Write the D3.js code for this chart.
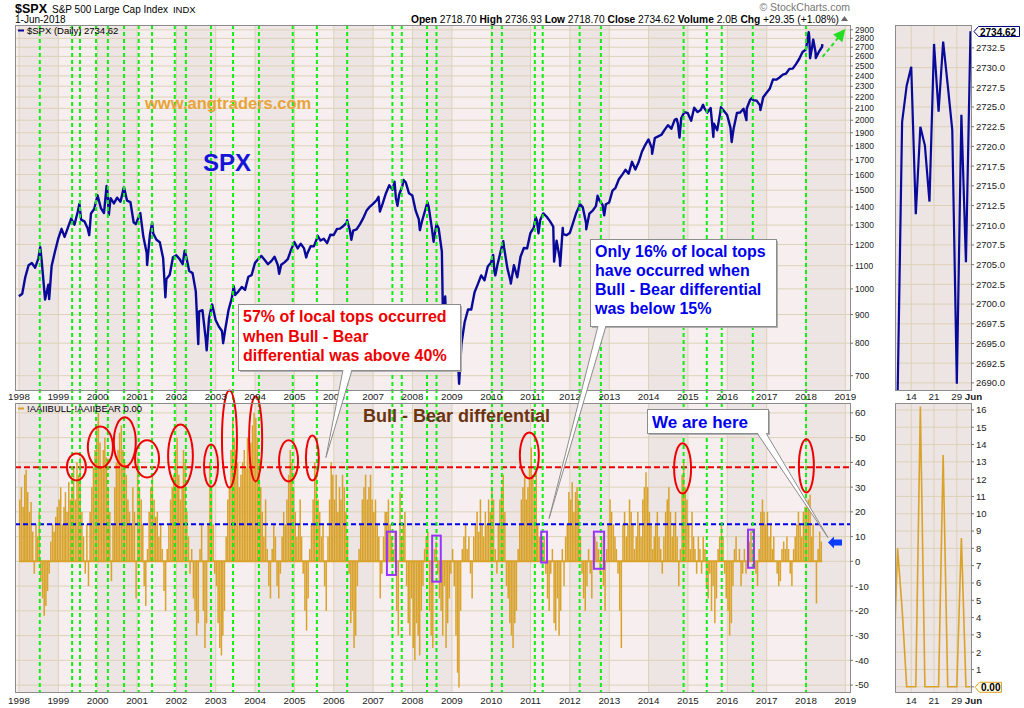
<!DOCTYPE html>
<html>
<head>
<meta charset="utf-8">
<script src="https://cdn.jsdelivr.net/npm/d3@7"></script>
<style>
  body { margin: 0; background: #fff; }
  svg { display: block; font-family: "Liberation Sans", Arial, sans-serif; }
</style>
</head>
<body>
<svg width="1024" height="708"></svg>
<script>
// ---- data ----
// S&P 500 month-end closes, Dec 1997 .. May 2018
var spxMonthly = [970,
  980, 1049, 1102, 1112, 1091, 1134, 1121, 957, 1017, 1099, 1164, 1229,
  1280, 1238, 1286, 1335, 1302, 1373, 1329, 1320, 1283, 1363, 1389, 1469,
  1394, 1366, 1499, 1452, 1421, 1455, 1431, 1518, 1437, 1429, 1315, 1320,
  1366, 1240, 1160, 1249, 1256, 1224, 1211, 1134, 1041, 1060, 1139, 1148,
  1130, 1107, 1147, 1076, 1067, 990, 912, 916, 815, 886, 936, 880,
  856, 841, 848, 917, 964, 975, 990, 1008, 996, 1051, 1058, 1112,
  1131, 1145, 1126, 1107, 1121, 1141, 1102, 1104, 1115, 1130, 1174, 1212,
  1181, 1204, 1181, 1157, 1192, 1191, 1234, 1220, 1229, 1207, 1249, 1248,
  1280, 1281, 1295, 1311, 1270, 1270, 1277, 1304, 1336, 1378, 1401, 1418,
  1438, 1407, 1421, 1482, 1531, 1503, 1455, 1474, 1527, 1549, 1481, 1468,
  1379, 1331, 1323, 1386, 1400, 1280, 1267, 1283, 1166, 969, 896, 903,
  826, 735, 798, 873, 919, 919, 987, 1021, 1057, 1036, 1096, 1115,
  1074, 1104, 1169, 1187, 1089, 1031, 1102, 1049, 1141, 1183, 1181, 1258,
  1286, 1327, 1326, 1364, 1345, 1321, 1292, 1219, 1131, 1253, 1247, 1258,
  1312, 1366, 1408, 1398, 1310, 1362, 1379, 1407, 1441, 1412, 1416, 1426,
  1498, 1515, 1569, 1598, 1631, 1606, 1686, 1633, 1682, 1757, 1806, 1848,
  1783, 1859, 1872, 1884, 1924, 1960, 1931, 2003, 1972, 2018, 2068, 2059,
  1995, 2105, 2068, 2086, 2107, 2063, 2104, 1972, 1920, 2079, 2080, 2044,
  1940, 1932, 2060, 2065, 2097, 2099, 2174, 2171, 2168, 2126, 2199, 2239,
  2279, 2364, 2363, 2384, 2412, 2423, 2470, 2472, 2519, 2575, 2648, 2674,
  2824, 2714, 2641, 2648, 2705];

// intra-month highs and lows visible on the line
var spxSwings = [
  ["1998-07-17", 1187], ["1998-08-31", 957], ["1998-10-08", 959],
  ["1999-07-16", 1419], ["1999-10-15", 1247],
  ["2000-03-24", 1527], ["2000-04-14", 1356], ["2000-09-01", 1520], ["2000-12-20", 1305],
  ["2001-04-04", 1103], ["2001-05-21", 1313], ["2001-09-21", 966],
  ["2002-03-19", 1170], ["2002-07-23", 797], ["2002-10-09", 777], ["2002-11-27", 938],
  ["2003-03-11", 800], ["2003-06-17", 1011], ["2004-08-12", 1064],
  ["2005-04-20", 1138], ["2005-08-03", 1245], ["2006-05-05", 1326], ["2006-06-13", 1224],
  ["2007-02-20", 1460], ["2007-03-05", 1374], ["2007-07-19", 1553], ["2007-08-15", 1407],
  ["2007-10-09", 1565], ["2008-03-10", 1273], ["2008-05-19", 1427], ["2008-07-15", 1214],
  ["2008-08-11", 1305], ["2008-10-10", 899], ["2008-11-20", 752], ["2009-01-06", 935],
  ["2009-03-09", 677], ["2010-01-19", 1150], ["2010-02-08", 1057], ["2010-04-23", 1217],
  ["2010-07-02", 1022], ["2011-02-18", 1343], ["2011-03-16", 1257], ["2011-04-29", 1364],
  ["2011-08-08", 1119], ["2011-10-03", 1099], ["2011-10-27", 1285],
  ["2012-04-02", 1419], ["2012-06-01", 1278], ["2012-09-14", 1466], ["2012-11-15", 1353],
  ["2014-02-03", 1742], ["2014-09-18", 2011], ["2014-10-15", 1862],
  ["2015-05-21", 2131], ["2015-08-25", 1867], ["2015-11-03", 2109], ["2016-02-11", 1829],
  ["2016-06-27", 2001], ["2016-08-15", 2190], ["2016-11-04", 2085],
  ["2018-01-26", 2873], ["2018-02-08", 2581], ["2018-03-09", 2786], ["2018-04-02", 2582],
  ["2018-06-01", 2734.62]];

// AAII bull - bear spread, two readings per month, Jan 1998 .. May 2018
var aaiiSpread = [
  25,30,22,35,37,28,20,24,12,-5,15,10,20,-8,-15,-22,-18,-12,-5,8,15,12,18,22,
  25,30,15,22,28,20,32,25,30,38,25,40,35,42,20,10,-5,15,-10,20,30,38,45,55,
  60,48,38,45,50,42,30,20,-8,15,30,40,45,52,55,45,40,35,25,20,15,30,20,-15,
  42,30,25,15,-10,-18,5,20,30,35,25,18,20,10,15,5,-12,-20,5,15,25,30,35,45,
  50,35,25,30,45,40,20,10,-5,5,-15,-20,-30,-25,5,15,-20,-35,-25,15,40,30,15,-5,
  -10,-25,-35,-38,-30,-20,10,25,30,45,58,50,45,40,30,35,40,45,38,50,42,48,55,60,
  58,50,40,30,20,10,25,5,-10,-15,5,15,10,-10,-15,-5,10,20,15,25,35,45,40,30,
  20,10,15,25,10,-5,-20,-28,-15,5,15,25,40,35,25,20,10,15,-10,-20,10,25,40,35,
  25,35,20,30,25,35,30,20,10,-5,-25,-20,-35,-30,-10,5,15,25,30,35,25,30,35,25,
  20,25,15,10,-15,-5,10,20,20,25,15,10,5,12,-20,-30,28,10,15,20,-10,-25,-30,-15,
  -35,-40,-25,-30,-38,-20,-10,5,10,12,-20,-30,-35,5,8,-5,-15,-20,-30,-10,-35,-25,-15,-5,
  5,-10,-30,-45,-51,-20,5,10,15,5,10,-5,-15,10,15,20,12,25,15,10,20,15,25,20,
  30,25,5,-5,15,25,30,35,20,-10,-15,-25,-30,-35,-25,-20,5,15,25,30,35,25,30,38,
  46,35,30,38,15,10,10,8,10,-5,-15,-20,-5,5,-25,-28,-15,-30,-20,5,-10,10,15,28,
  25,32,20,28,30,25,10,-5,-15,-20,-10,5,-5,-15,5,10,8,5,-5,10,-10,-20,5,15,
  25,20,15,10,5,-5,-20,-35,15,20,10,15,25,20,15,5,10,20,15,10,25,30,36,30,
  20,15,5,10,15,20,10,5,-5,10,20,25,30,20,10,15,20,10,-10,5,35,40,30,25,
  15,5,20,10,5,-5,10,5,-5,10,5,-10,-15,-5,-20,-10,-25,-15,5,10,15,10,-5,-15,
  -20,-30,-25,-10,5,10,0,5,-10,-5,5,-5,10,8,12,5,0,-5,-10,5,20,25,20,15,
  20,10,15,5,10,0,-5,-10,-8,5,8,5,10,5,-5,-10,5,10,15,20,15,10,20,22,
  22,25,27,10,15,0,-17,5,12,8];

// local tops marked with green dashed lines (decimal years)
var localTops = [1998.53, 1999.35, 1999.55, 1999.96, 2000.26, 2000.67, 2001.04, 2001.38,
  2001.96, 2002.24, 2002.88, 2003.44, 2004.10, 2004.96, 2005.57, 2006.34, 2007.49,
  2007.73, 2008.37, 2008.61, 2010.02, 2010.27, 2011.11, 2011.31, 2012.25, 2012.79,
  2014.89, 2015.48, 2015.86, 2016.65, 2018.00];

// red ellipses (tops above 40%) and purple boxes (tops below 15%): [from, to, low, high]
var highTops = [[1999.22, 1999.70, 32.7, 43.6], [1999.75, 2000.39, 37.9, 54.5],
  [2000.41, 2000.97, 38.3, 58.2], [2000.95, 2001.56, 33.9, 48.9], [2001.79, 2002.42, 29.8, 55.3],
  [2002.70, 2003.06, 30.2, 47.2], [2003.16, 2003.54, 29.8, 69.1], [2003.85, 2004.18, 32.3, 66.7],
  [2004.61, 2005.09, 32.3, 48.9], [2005.29, 2005.62, 32.7, 50.9], [2010.73, 2011.21, 33.5, 52.1],
  [2014.65, 2015.08, 27.4, 47.7], [2017.82, 2018.20, 27.8, 49.3]];
var lowTops = [[2007.35, 2007.58, -5.5, 12], [2008.50, 2008.72, -8.2, 10.4],
  [2011.27, 2011.42, -0.5, 12], [2012.61, 2012.87, -3, 12], [2016.53, 2016.68, -2.6, 12.8]];

var redLevel = 38, blueLevel = 15;

// last weeks (right-hand panels)
var recentDays = ["2018-05-08", "2018-05-09", "2018-05-10", "2018-05-11", "2018-05-14", "2018-05-15",
  "2018-05-16", "2018-05-17", "2018-05-18", "2018-05-21", "2018-05-22", "2018-05-23",
  "2018-05-24", "2018-05-25", "2018-05-29", "2018-05-30", "2018-05-31", "2018-06-01"];
var recentClose = [2672, 2688, 2723.1, 2727.7, 2730.1, 2711.4, 2722.5, 2720.1, 2713.0, 2733.0,
  2724.4, 2733.3, 2727.8, 2722.1, 2689.9, 2724.0, 2705.3, 2734.62];
var recentSpread = [0, 8.0, 4.5, 0, 0, 0, 16.2, 0, 0, 0, 0, 13.4, 0, 0, 0, 8.6, 0, 0];
var recentLabels = [["2018-05-14", "14"], ["2018-05-21", "21"], ["2018-05-29", "29"], ["2018-06-01", "Jun"]];

var spxTicks = [700, 800, 900, 1000, 1100, 1200, 1300, 1400, 1500, 1600, 1700, 1800, 1900,
  2000, 2100, 2200, 2300, 2400, 2500, 2600, 2700, 2800, 2900];
var aaiiTicks = [-50, -40, -30, -20, -10, 0, 10, 20, 30, 40, 50, 60];
var closeTicks = d3.range(2690, 2733, 2.5);
var spreadTicks = d3.range(0, 17);
var years = d3.range(1998, 2020);

// ---- layout ----
var pTop = {x0: 15, x1: 850, y0: 25, y1: 390},
    pBot = {x0: 15, x1: 850, y0: 403, y1: 692},
    sideX0 = 895, sideX1 = 971;

var parse = d3.timeParse("%Y-%m-%d");
function yd(t) { var yr = Math.floor(t); return new Date(yr, 0, 1 + Math.round((t - yr) * 365)); }

var x = d3.scaleTime().domain([new Date(1998, 0, 1), new Date(2018, 0, 1)]).range([19, 806]);
var y = d3.scaleLog().domain([660, 2958]).range([pTop.y1, pTop.y0]);
var y2 = d3.scaleLinear().domain([-52.8, 64]).range([pBot.y1, pBot.y0]);
var xs = d3.scalePoint().domain(recentDays).range([893, 970.5]);
var ys = d3.scaleLinear().domain([2689.1, 2735.4]).range([pTop.y1, pTop.y0]);
var ys2 = d3.scaleLinear().domain([-0.3, 16.4]).range([pBot.y1, pBot.y0]);

var svg = d3.select("svg");
var defs = svg.append("defs");
function clip(id, x0, y0, x1, y1) {
  defs.append("clipPath").attr("id", id).append("rect")
    .attr("x", x0).attr("y", y0).attr("width", x1 - x0).attr("height", y1 - y0);
}
clip("cTop", pTop.x0, pTop.y0, pTop.x1, pTop.y1);
clip("cBot", pBot.x0, pBot.y0, pBot.x1, pBot.y1);
clip("cSideTop", sideX0, pTop.y0, sideX1, pTop.y1);
clip("cSideBot", sideX0, pBot.y0, sideX1, pBot.y1);

var gridCol = "#dcd2b8", light = "#f7efef", dark = "#ede4e4";

// panel backgrounds with yearly bands
[[pTop, "cTop"], [pBot, "cBot"]].forEach(function(p) {
  var b = p[0];
  var g = svg.append("g").attr("clip-path", "url(#" + p[1] + ")");
  g.append("rect").attr("x", b.x0).attr("y", b.y0).attr("width", b.x1 - b.x0).attr("height", b.y1 - b.y0)
    .attr("fill", light);
  g.selectAll("rect.band").data(d3.range(1996, 2020).filter(function(d) { return d % 2 === 0; }))
    .enter().append("rect").attr("class", "band")
      .attr("x", function(d) { return x(new Date(d, 0, 1)); })
      .attr("y", b.y0)
      .attr("width", function(d) { return x(new Date(d + 1, 0, 1)) - x(new Date(d, 0, 1)); })
      .attr("height", b.y1 - b.y0)
      .attr("fill", dark);
  g.selectAll("line.vg").data(years).enter().append("line").attr("class", "vg")
    .attr("x1", function(d) { return x(new Date(d, 0, 1)); })
    .attr("x2", function(d) { return x(new Date(d, 0, 1)); })
    .attr("y1", b.y0).attr("y2", b.y1)
    .attr("stroke", gridCol);
});
svg.append("rect").attr("x", sideX0).attr("y", pTop.y0).attr("width", sideX1 - sideX0)
  .attr("height", pTop.y1 - pTop.y0).attr("fill", dark);
svg.append("rect").attr("x", sideX0).attr("y", pBot.y0).attr("width", sideX1 - sideX0)
  .attr("height", pBot.y1 - pBot.y0).attr("fill", dark);

// horizontal grid
function hGrid(scale, ticks, x0, x1) {
  svg.append("g").selectAll("line").data(ticks).enter().append("line")
    .attr("x1", x0).attr("x2", x1)
    .attr("y1", function(d) { return scale(d); }).attr("y2", function(d) { return scale(d); })
    .attr("stroke", gridCol);
}
hGrid(y, spxTicks, pTop.x0, pTop.x1);
hGrid(y2, aaiiTicks, pBot.x0, pBot.x1);
hGrid(ys, closeTicks, sideX0, sideX1);
hGrid(ys2, spreadTicks, sideX0, sideX1);
[pTop, pBot].forEach(function(b) {
  svg.append("g").selectAll("line").data(recentLabels.slice(0, 3)).enter().append("line")
    .attr("x1", function(d) { return xs(d[0]); }).attr("x2", function(d) { return xs(d[0]); })
    .attr("y1", b.y0).attr("y2", b.y1).attr("stroke", gridCol);
});

// SPX line
var spxPts = spxMonthly.map(function(v, i) { return {date: new Date(1997, 12 + i, 0), v: v}; })
  .concat(spxSwings.map(function(d) { return {date: parse(d[0]), v: d[1]}; }))
  .sort(function(a, b) { return a.date - b.date; });
svg.append("path").datum(spxPts)
  .attr("clip-path", "url(#cTop)")
  .attr("fill", "none").attr("stroke", "#0a0a9a").attr("stroke-width", 2.4)
  .attr("stroke-linejoin", "round")
  .attr("d", d3.line().x(function(d) { return x(d.date); }).y(function(d) { return y(d.v); }));

// AAII spread bars
var aaiiPts = aaiiSpread.map(function(v, i) {
  return {date: new Date(1998, Math.floor(i / 2), i % 2 ? 16 : 1), v: v};
});
var barW = (x(new Date(1998, 1, 1)) - x(new Date(1998, 0, 1))) / 2;
svg.append("g").attr("clip-path", "url(#cBot)")
  .selectAll("rect").data(aaiiPts).enter().append("rect")
    .attr("x", function(d) { return x(d.date); })
    .attr("width", barW * 0.9)
    .attr("y", function(d) { return y2(Math.max(0, d.v)); })
    .attr("height", function(d) { return Math.abs(y2(d.v) - y2(0)); })
    .attr("fill", "#d9a22a");
svg.append("line").attr("x1", x(aaiiPts[0].date)).attr("x2", x(aaiiPts[aaiiPts.length - 1].date) + barW)
  .attr("y1", y2(0)).attr("y2", y2(0)).attr("stroke", "#d9a22a").attr("stroke-width", 2);

// side panels
svg.append("path").datum(recentClose).attr("clip-path", "url(#cSideTop)")
  .attr("fill", "none").attr("stroke", "#0a0a9a").attr("stroke-width", 2.2)
  .attr("d", d3.line().x(function(d, i) { return xs(recentDays[i]); }).y(function(d) { return ys(d); }));
svg.append("path").datum(recentSpread).attr("clip-path", "url(#cSideBot)")
  .attr("fill", "none").attr("stroke", "#d9a22a").attr("stroke-width", 1.6)
  .attr("d", d3.line().x(function(d, i) { return xs(recentDays[i]); }).y(function(d) { return ys2(d); }));

// threshold lines
svg.append("line").attr("x1", pBot.x0).attr("x2", pBot.x1)
  .attr("y1", y2(redLevel)).attr("y2", y2(redLevel))
  .attr("stroke", "#ee0000").attr("stroke-width", 2).attr("stroke-dasharray", "6,3");
svg.append("line").attr("x1", pBot.x0).attr("x2", pBot.x1)
  .attr("y1", y2(blueLevel)).attr("y2", y2(blueLevel))
  .attr("stroke", "#0000ee").attr("stroke-width", 2).attr("stroke-dasharray", "5,3");

// local-top markers
svg.append("g").selectAll("line").data(localTops).enter().append("line")
  .attr("x1", function(d) { return x(yd(d)); }).attr("x2", function(d) { return x(yd(d)); })
  .attr("y1", pTop.y0).attr("y2", pBot.y1)
  .attr("stroke", "#11ee11").attr("stroke-width", 2).attr("stroke-dasharray", "4,3");

svg.append("g").selectAll("ellipse").data(highTops).enter().append("ellipse")
  .attr("cx", function(d) { return (x(yd(d[0])) + x(yd(d[1]))) / 2; })
  .attr("cy", function(d) { return (y2(d[2]) + y2(d[3])) / 2; })
  .attr("rx", function(d) { return (x(yd(d[1])) - x(yd(d[0]))) / 2; })
  .attr("ry", function(d) { return (y2(d[2]) - y2(d[3])) / 2; })
  .attr("fill", "none").attr("stroke", "#ee0000").attr("stroke-width", 2);
svg.append("g").selectAll("rect").data(lowTops).enter().append("rect")
  .attr("x", function(d) { return x(yd(d[0])); })
  .attr("y", function(d) { return y2(d[3]); })
  .attr("width", function(d) { return x(yd(d[1])) - x(yd(d[0])); })
  .attr("height", function(d) { return y2(d[2]) - y2(d[3]); })
  .attr("fill", "none").attr("stroke", "#9933ff").attr("stroke-width", 2);

// green arrow: expected continuation
var arrFrom = [yd(2018.42), 2594], arrTo = [yd(2019.0), 2909];
var ax0 = x(arrFrom[0]), ay0 = y(arrFrom[1]), ax1 = x(arrTo[0]), ay1 = y(arrTo[1]);
var ang = Math.atan2(ay1 - ay0, ax1 - ax0);
svg.append("line").attr("x1", ax0).attr("y1", ay0)
  .attr("x2", ax1 - 9 * Math.cos(ang)).attr("y2", ay1 - 9 * Math.sin(ang))
  .attr("stroke", "#22dd22").attr("stroke-width", 2).attr("stroke-dasharray", "4,3");
svg.append("path").attr("fill", "#22dd22")
  .attr("transform", "translate(" + ax1 + "," + ay1 + ") rotate(" + ang * 180 / Math.PI + ")")
  .attr("d", "M0,0 L-12,-6 L-12,6 Z");

// panel borders
[[pTop.x0, pTop.y0, pTop.x1, pTop.y1], [pBot.x0, pBot.y0, pBot.x1, pBot.y1],
 [sideX0, pTop.y0, sideX1, pTop.y1], [sideX0, pBot.y0, sideX1, pBot.y1]].forEach(function(r) {
  svg.append("rect").attr("x", r[0] + 0.5).attr("y", r[1] + 0.5)
    .attr("width", r[2] - r[0]).attr("height", r[3] - r[1])
    .attr("fill", "none").attr("stroke", "#8c8c8c");
});

// ---- axes ----
function rightAxis(scale, ticks, x0, fmt, size) {
  var g = svg.append("g").attr("font-size", size).attr("fill", "#222");
  g.selectAll("line").data(ticks).enter().append("line")
    .attr("x1", x0).attr("x2", x0 + 3)
    .attr("y1", function(d) { return scale(d); }).attr("y2", function(d) { return scale(d); })
    .attr("stroke", "#777");
  g.selectAll("text").data(ticks).enter().append("text")
    .attr("x", x0 + 5).attr("y", function(d) { return scale(d) + size * 0.36; })
    .text(fmt);
}
rightAxis(y, spxTicks, pTop.x1, function(d) { return d; }, 8.5);
rightAxis(y2, aaiiTicks, pBot.x1, function(d) { return d; }, 9.5);
rightAxis(ys, closeTicks, sideX1, d3.format(".1f"), 9.5);
rightAxis(ys2, spreadTicks, sideX1, function(d) { return d; }, 9.5);

[400, 704].forEach(function(ty) {
  svg.append("g").attr("font-size", 9.8).attr("fill", "#222").attr("text-anchor", "middle")
    .selectAll("text").data(years).enter().append("text")
      .attr("x", function(d) { return x(new Date(d, 0, 1)); })
      .attr("y", ty).text(function(d) { return d; });
  svg.append("g").attr("font-size", 9.8).attr("fill", "#222").attr("text-anchor", "middle")
    .selectAll("text").data(recentLabels).enter().append("text")
      .attr("x", function(d) { return xs(d[0]) + (d[1] === "Jun" ? 3 : 0); })
      .attr("y", ty).attr("font-weight", function(d) { return d[1] === "Jun" ? "bold" : null; })
      .text(function(d) { return d[1]; });
});

// last value tags
svg.append("path").attr("d", "M974,31.5 L978.5,26.5 L1019.5,26.5 L1019.5,36.5 L978.5,36.5 Z")
  .attr("fill", "#fff").attr("stroke", "#000080");
svg.append("text").attr("x", 980).attr("y", 35.5).attr("font-size", 10).attr("font-weight", "bold")
  .text("2734.62");
svg.append("path").attr("d", "M975," + (ys2(0) + 0.5) + " l4.5,-5 h22 v10 h-22 Z")
  .attr("fill", "#fffbe8").attr("stroke", "#d9a22a");
svg.append("text").attr("x", 981).attr("y", ys2(0) + 4.5).attr("font-size", 10).attr("font-weight", "bold")
  .text("0.00");

// ---- header and legends ----
var hx = 15;
[["$SPX", 12.5, "bold"], ["S&P 500 Large Cap Index", 10, null], ["INDX", 9.5, null]].forEach(function(h) {
  var t = svg.append("text").attr("x", hx).attr("y", 13).attr("font-size", h[1])
    .attr("font-weight", h[2]).text(h[0]);
  hx += t.node().getComputedTextLength() + 5;
});
svg.append("text").attr("x", 15).attr("y", 23).attr("font-size", 10).text("1-Jun-2018");
svg.append("text").attr("x", 850).attr("y", 11).attr("text-anchor", "end").attr("font-size", 10.5)
  .attr("fill", "#777").text("\u00A9 StockCharts.com");

var quote = svg.append("text").attr("x", 839).attr("y", 23).attr("text-anchor", "end").attr("font-size", 10.2);
[["Open", " 2718.70  "], ["High", " 2736.93  "], ["Low", " 2718.70  "], ["Close", " 2734.62  "],
 ["Volume", " 2.0B  "], ["Chg", " +29.35 (+1.08%)"]].forEach(function(q) {
  quote.append("tspan").attr("font-weight", "bold").text(q[0]);
  quote.append("tspan").text(q[1]);
});
svg.append("path").attr("d", "M841,21 L844.5,16 L848,21 Z").attr("fill", "#666");

svg.append("line").attr("x1", 18).attr("x2", 24).attr("y1", 30.5).attr("y2", 30.5)
  .attr("stroke", "#0a0a9a").attr("stroke-width", 2);
svg.append("text").attr("x", 27).attr("y", 34).attr("font-size", 9.5).text("$SPX (Daily) 2734.62");
svg.append("line").attr("x1", 18).attr("x2", 24).attr("y1", 408.5).attr("y2", 408.5)
  .attr("stroke", "#d9a22a").attr("stroke-width", 2);
svg.append("text").attr("x", 27).attr("y", 412).attr("font-size", 9.5).text("!AAIIBULL-!AAIIBEAR 0.00");

// titles on the chart
svg.append("text").attr("x", 145).attr("y", 109).attr("font-size", 16.5).attr("font-weight", "bold")
  .attr("fill", "#e8a436").text("www.angtraders.com");
svg.append("text").attr("x", 203).attr("y", 171).attr("font-size", 24).attr("font-weight", "bold")
  .attr("fill", "#1515d8").text("SPX");
svg.append("text").attr("x", 363).attr("y", 422).attr("font-size", 18).attr("font-weight", "bold")
  .attr("fill", "#6b3410").text("Bull - Bear differential");

// ---- callouts ----
function callout(box, lines, color, size, lh, tail) {
  var g = svg.append("g");
  g.append("rect").attr("x", box[0] + 2).attr("y", box[1] + 2).attr("width", box[2]).attr("height", box[3])
    .attr("fill", "#b0b0b0");
  g.append("rect").attr("x", box[0] + 0.5).attr("y", box[1] + 0.5).attr("width", box[2]).attr("height", box[3])
    .attr("fill", "#fff").attr("stroke", "#8c8c8c");
  var tip = [x(yd(tail[2])), y2(tail[3])];
  var by = box[1] + box[3];
  g.append("path").attr("d", "M" + tail[0] + "," + (by - 1) + " L" + tip[0] + "," + tip[1] +
      " L" + tail[1] + "," + (by - 1) + " Z")
    .attr("fill", "#fff");
  g.append("path").attr("d", "M" + tail[0] + "," + by + " L" + tip[0] + "," + tip[1] +
      " L" + tail[1] + "," + by)
    .attr("fill", "none").attr("stroke", "#8c8c8c");
  g.selectAll("text").data(lines).enter().append("text")
    .attr("x", box[0] + 5).attr("y", function(d, i) { return box[1] + size + 2 + i * lh; })
    .attr("font-size", size).attr("font-weight", "bold").attr("fill", color)
    .text(function(d) { return d; });
}
callout([238, 304, 222, 66], ["57% of local tops occurred", "when Bull - Bear", "differential was above 40%"],
  "#ee0000", 16, 19.5, [343, 352, 2005.80, 42]);
callout([590, 239, 186, 87], ["Only 16% of local tops", "have occurred when", "Bull - Bear differential", "was below 15%"],
  "#0000ee", 16, 19, [598, 606, 2011.47, 17.3]);
callout([647, 409, 121, 24], ["We are here"], "#0000ee", 17, 0, [757, 766, 2018.56, 9.6]);

// blue block arrow pointing at current reading
svg.append("path")
  .attr("transform", "translate(" + x(yd(2018.56)) + "," + y2(7.6) + ")")
  .attr("d", "M0,0 L6,-6 L6,-3 L14,-3 L14,3 L6,3 L6,6 Z")
  .attr("fill", "#0a3cff");
</script>
</body>
</html>
